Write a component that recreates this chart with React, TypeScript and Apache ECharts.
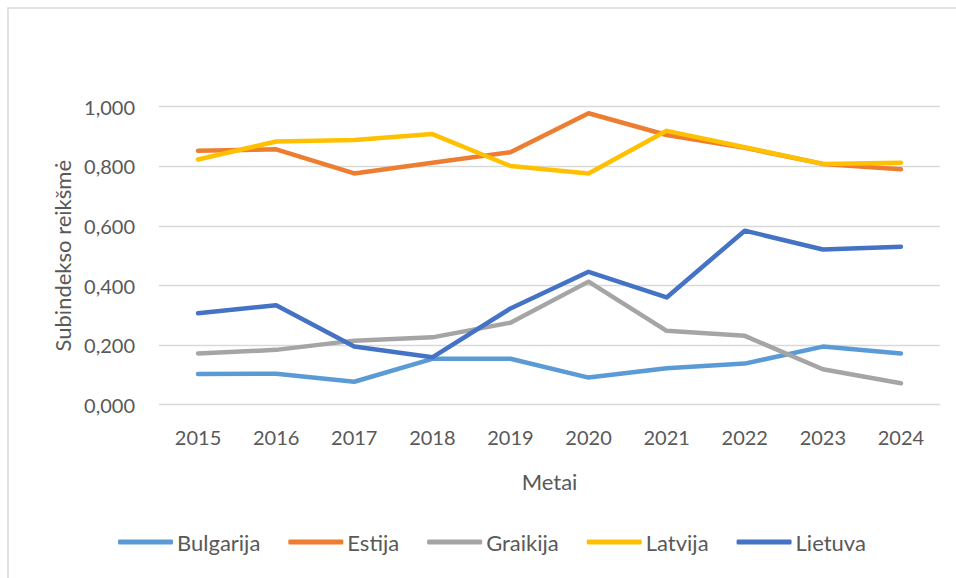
import React, { useEffect, useRef } from "react";
import * as echarts from "echarts";

const years = ["2015", "2016", "2017", "2018", "2019", "2020", "2021", "2022", "2023", "2024"];
const bulgarija = [0.103, 0.104, 0.077, 0.154, 0.154, 0.091, 0.122, 0.138, 0.195, 0.172];
const estija = [0.852, 0.857, 0.776, 0.812, 0.847, 0.978, 0.905, 0.862, 0.808, 0.790];
const graikija = [0.172, 0.184, 0.215, 0.226, 0.275, 0.413, 0.248, 0.231, 0.119, 0.072];
const latvija = [0.823, 0.883, 0.888, 0.908, 0.801, 0.776, 0.919, 0.864, 0.808, 0.812];
const lietuva = [0.307, 0.334, 0.195, 0.159, 0.323, 0.446, 0.360, 0.584, 0.521, 0.530];

const seriesNames = ["Bulgarija", "Estija", "Graikija", "Latvija", "Lietuva"];
const seriesData = [bulgarija, estija, graikija, latvija, lietuva];
const seriesColors = ["#5B9BD5", "#ED7D31", "#A5A5A5", "#FFC000", "#4472C4"];

const FONT = "Lato";
const TEXT = "#595959";

export default function App() {
  const ref = useRef<HTMLDivElement>(null);
  useEffect(() => {
    if (!ref.current) return;
    const chart = echarts.init(ref.current, undefined, { renderer: "svg" });
    chart.setOption({
      animation: false,
      backgroundColor: "#ffffff",
      textStyle: { fontFamily: FONT },
      graphic: [
        {
          type: "rect",
          shape: { x: 8, y: 8, width: 1000, height: 1000 },
          style: { fill: "none", stroke: "#d9d9d9", lineWidth: 1.5 },
          silent: true,
        },
      ],
      grid: { left: 159, right: 16, top: 106.7, bottom: 173.3 },
      legend: {
        bottom: 20,
        left: 113,
        itemGap: 28,
        itemWidth: 55,
        itemHeight: 5,
        icon: "roundRect",
        textStyle: { fontFamily: FONT, fontSize: 22, color: TEXT, padding: [0, 0, 0, -1] },
        data: seriesNames,
      },
      xAxis: {
        type: "category",
        data: years,
        boundaryGap: true,
        name: "Metai",
        nameLocation: "middle",
        nameGap: 66,
        nameTextStyle: { fontFamily: FONT, fontSize: 22, color: TEXT },
        axisLine: { show: false },
        axisTick: { show: false },
        axisLabel: { fontFamily: FONT, fontSize: 20, color: TEXT, margin: 22 },
      },
      yAxis: {
        type: "value",
        min: 0,
        max: 1,
        interval: 0.2,
        name: "Subindekso reikšmė",
        nameLocation: "middle",
        nameGap: 83,
        nameTextStyle: { fontFamily: FONT, fontSize: 22, color: TEXT },
        axisLine: { show: false },
        axisTick: { show: false },
        splitLine: { lineStyle: { color: "#d9d9d9", width: 1.3 } },
        axisLabel: {
          fontFamily: FONT,
          fontSize: 20,
          color: TEXT,
          margin: 24,
          formatter: (v: number) => v.toFixed(3).replace(".", ","),
        },
      },
      series: seriesNames.map((name, i) => ({
        name,
        type: "line",
        data: seriesData[i],
        symbol: "none",
        color: seriesColors[i],
        lineStyle: { width: 4.5, color: seriesColors[i], cap: "round", join: "round" },
      })),
    });
    return () => chart.dispose();
  }, []);
  return (
    <div
      ref={ref}
      style={{ position: "fixed", left: 0, top: 0, width: 956, height: 578 }}
    />
  );
}
